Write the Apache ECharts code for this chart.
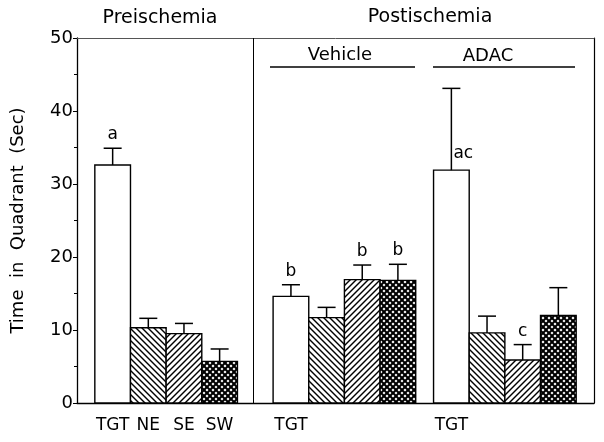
<!DOCTYPE html>
<html><head><meta charset="utf-8">
<script src="https://cdn.jsdelivr.net/npm/echarts@6/dist/echarts.min.js"></script>
<style>html,body{margin:0;padding:0;background:#fff}#c{width:604px;height:442px}</style>
</head><body><div id="c"></div>
<script>
// ---- data ----
const quadrants = ['TGT','NE','SE','SW','TGT','NE','SE','SW','TGT','NE','SE','SW'];
const conditions = ['Preischemia','Preischemia','Preischemia','Preischemia','Vehicle','Vehicle','Vehicle','Vehicle','ADAC','ADAC','ADAC','ADAC'];
const xLabels = ['TGT','NE','SE','SW','TGT','','','','TGT','','',''];
const slots = [1,2,3,4,6,7,8,9,10.5,11.5,12.5,13.5];
const means = [32.6,10.3,9.5,5.7,14.6,11.7,16.9,16.8,31.9,9.6,5.9,12.0];
const upper = [34.9,11.6,10.9,7.4,16.2,13.1,18.9,19.0,43.1,11.9,8.0,15.8];
const letters = ['a','','','','b','','b','b','ac','','c',''];
const yTicks = [0,10,20,30,40,50];
const divider = 4.95;
const xMax = 14.5;

const FONT = 'DejaVu Sans';

function hatch(kind, p, lw) {
  const c = document.createElement('canvas'); c.width = p; c.height = p;
  const g = c.getContext('2d');
  g.fillStyle = '#fff'; g.fillRect(0,0,p,p);
  g.strokeStyle = '#000'; g.lineWidth = lw;
  const seg = (a,b,c2,d) => { g.beginPath(); g.moveTo(a,b); g.lineTo(c2,d); g.stroke(); };
  if (kind === 'back' || kind === 'cross') {
    seg(-2,-2,p+2,p+2); seg(p-2,-2,p+2,2); seg(-2,p-2,2,p+2);
  }
  if (kind === 'fwd' || kind === 'cross') {
    seg(-2,p+2,p+2,-2); seg(-2,2,2,-2); seg(p-2,p+2,p+2,p-2);
  }
  return c;
}
const fills = {
  TGT: '#ffffff',
  NE: {image: hatch('back', 6, 1.4), repeat: 'repeat'},
  SE: {image: hatch('fwd', 6, 1.4), repeat: 'repeat'},
  SW: {image: hatch('cross', 6, 2.0), repeat: 'repeat'}
};

const chart = echarts.init(document.getElementById('c'), null, {renderer: 'canvas'});
const option = {
  animation: false,
  grid: {left: 77, right: 10, top: 38, bottom: 39},
  xAxis: [
    {type: 'value', min: 0, max: xMax, position: 'bottom',
     axisLine: {show: true, onZero: false, lineStyle: {color: '#000', width: 1.3}},
     axisTick: {show: false}, axisLabel: {show: false}, splitLine: {show: false}},
    {type: 'value', min: 0, max: xMax, position: 'top',
     axisLine: {show: true, onZero: false, lineStyle: {color: '#555', width: 1}},
     axisTick: {show: false}, axisLabel: {show: false}, splitLine: {show: false}}
  ],
  yAxis: [
    {type: 'value', min: yTicks[0], max: yTicks[yTicks.length-1], interval: yTicks[1]-yTicks[0],
     axisLine: {show: true, onZero: false, lineStyle: {color: '#000', width: 1.3}},
     axisTick: {show: true, length: 4, lineStyle: {color: '#000', width: 1}},
     minorTick: {show: true, splitNumber: 2, length: 3, lineStyle: {color: '#000', width: 1}},
     axisLabel: {color: '#000', fontSize: 18, fontFamily: FONT, margin: 4},
     splitLine: {show: false},
     name: 'Time  in  Quadrant  (Sec)', nameLocation: 'middle', nameGap: 50, nameRotate: 90,
     nameTextStyle: {color: '#000', fontSize: 18, fontFamily: FONT}},
    {type: 'value', min: yTicks[0], max: yTicks[yTicks.length-1], position: 'right',
     axisLine: {show: true, onZero: false, lineStyle: {color: '#000', width: 1.2}},
     axisTick: {show: false}, axisLabel: {show: false}, splitLine: {show: false}}
  ],
  series: [
    {
      type: 'custom', name: 'bars', clip: false,
      data: slots.map((s, i) => [s, means[i], i]),
      encode: {x: 0, y: 1},
      renderItem: (params, api) => {
        const x = api.value(0), v = api.value(1), i = api.value(2);
        const p0 = api.coord([x - 0.5, v]), p1 = api.coord([x + 0.5, 0]);
        return {type: 'rect',
          shape: {x: p0[0], y: p0[1], width: p1[0] - p0[0], height: p1[1] - p0[1]},
          style: {fill: fills[quadrants[i]], stroke: '#000', lineWidth: 1.4}};
      },
      markLine: {
        silent: true, symbol: ['none','none'], label: {show: false},
        lineStyle: {color: '#000', type: 'solid', width: 1},
        data: [{xAxis: divider}]
      },
      z: 2
    },
    {
      type: 'custom', name: 'errors', clip: false,
      data: slots.map((s, i) => [s, means[i], upper[i], i]),
      encode: {x: 0, y: 2},
      renderItem: (params, api) => {
        const x = api.value(0), m = api.value(1), u = api.value(2), i = api.value(3);
        const top = api.coord([x, u]), base = api.coord([x, m]);
        const half = 9;
        const st = {stroke: '#000', lineWidth: 1.5};
        const children = [
          {type: 'line', shape: {x1: top[0], y1: base[1], x2: top[0], y2: top[1]}, style: st},
          {type: 'line', shape: {x1: top[0] - half, y1: top[1], x2: top[0] + half, y2: top[1]}, style: st}
        ];
        const t = letters[i];
        if (t) {
          if (u - m > 5) {
            const pt = api.coord([x, m + 2.2]);
            children.push({type: 'text', style: {text: t, x: pt[0] + 2, y: pt[1], align: 'left',
              verticalAlign: 'middle', font: '17px "' + FONT + '"', fill: '#000'}});
          } else {
            children.push({type: 'text', style: {text: t, x: top[0], y: top[1] - 5, align: 'center',
              verticalAlign: 'bottom', font: '17px "' + FONT + '"', fill: '#000'}});
          }
        }
        return {type: 'group', children};
      },
      z: 3
    },
    {
      type: 'custom', name: 'xlabels', clip: false,
      data: slots.map((s, i) => [s, 0, i]),
      encode: {x: 0, y: 1},
      renderItem: (params, api) => {
        const i = api.value(2);
        const p = api.coord([api.value(0), 0]);
        return {type: 'text', style: {text: xLabels[i], x: p[0], y: p[1] + 23, align: 'center',
          verticalAlign: 'middle', font: '17px "' + FONT + '"', fill: '#000'}};
      },
      z: 3
    }
  ],
  graphic: [
    {type: 'text', x: 160, y: 18, style: {text: 'Preischemia', align: 'center', verticalAlign: 'middle', font: '19px "' + FONT + '"', fill: '#000'}},
    {type: 'text', x: 430, y: 17, style: {text: 'Postischemia', align: 'center', verticalAlign: 'middle', font: '19px "' + FONT + '"', fill: '#000'}},
    {type: 'text', x: 340, y: 55, style: {text: 'Vehicle', align: 'center', verticalAlign: 'middle', font: '18px "' + FONT + '"', fill: '#000'}},
    {type: 'text', x: 488, y: 56, style: {text: 'ADAC', align: 'center', verticalAlign: 'middle', font: '18px "' + FONT + '"', fill: '#000'}},
    {type: 'line', shape: {x1: 270, y1: 67, x2: 415, y2: 67}, style: {stroke: '#000', lineWidth: 1.3}},
    {type: 'line', shape: {x1: 433, y1: 67, x2: 575, y2: 67}, style: {stroke: '#000', lineWidth: 1.3}}
  ]
};
chart.setOption(option);
</script>
</body></html>
